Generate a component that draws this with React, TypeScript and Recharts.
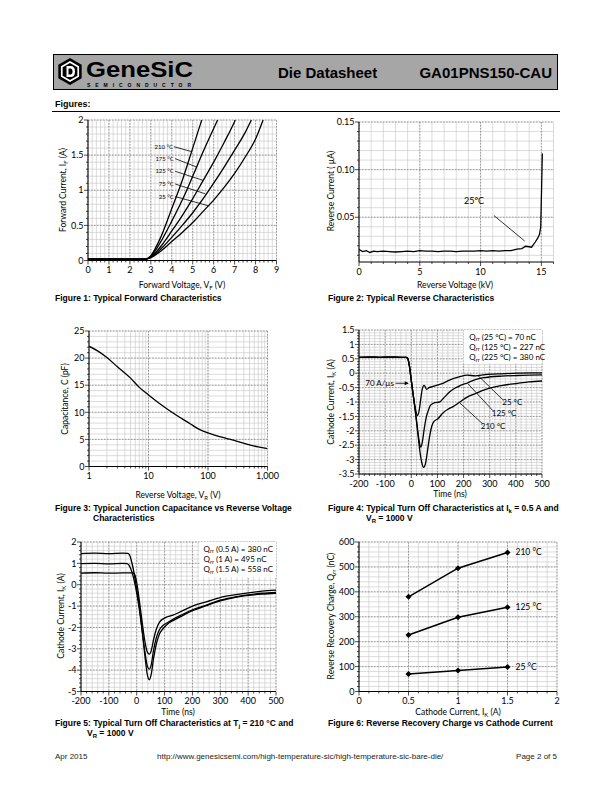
import React from 'react';
import {
  LineChart,
  Line,
  XAxis,
  YAxis,
  CartesianGrid,
  ReferenceLine,
  ReferenceDot,
  ReferenceArea
} from 'recharts';

const CAL = "Lato, 'Open Sans', 'DejaVu Sans', sans-serif";
const ARIAL = "'Liberation Sans', Arial, sans-serif";

// Figure 1: forward characteristics [V_F (V), I_F (A)]
const fwd25 = [[0, 0.02], [2.75, 0.02], [3, 0.04], [3.5, 0.14], [4, 0.27], [4.5, 0.4], [5, 0.54], [5.5, 0.7], [6, 0.86], [6.5, 1.04], [7, 1.24], [7.5, 1.47], [8, 1.73], [8.36, 2]];
const fwd75 = [[0, 0.02], [2.75, 0.02], [3, 0.045], [3.5, 0.17], [4, 0.33], [4.5, 0.5], [5, 0.68], [5.5, 0.88], [6, 1.1], [6.5, 1.33], [7, 1.57], [7.5, 1.82], [7.8, 2]];
const fwd125 = [[0, 0.02], [2.75, 0.02], [3, 0.05], [3.5, 0.21], [4, 0.42], [4.5, 0.64], [5, 0.88], [5.5, 1.14], [6, 1.4], [6.5, 1.68], [7, 1.98], [7.03, 2]];
const fwd175 = [[0, 0.02], [2.75, 0.02], [3, 0.06], [3.5, 0.28], [4, 0.56], [4.5, 0.86], [5, 1.2], [5.5, 1.55], [6, 1.88], [6.19, 2]];
const fwd210 = [[0, 0.02], [2.75, 0.02], [3, 0.07], [3.5, 0.35], [4, 0.74], [4.5, 1.14], [5, 1.6], [5.43, 2]];

// Figure 2: reverse characteristics [V_R (kV), I_R (uA)]
const rev25 = [[0, 0.016], [0.3, 0.014], [0.6, 0.015], [0.9, 0.013], [1.2, 0.0145], [1.5, 0.014], [2, 0.0145], [2.5, 0.014], [3, 0.0135], [3.5, 0.014], [4, 0.0145], [4.5, 0.014], [5, 0.015], [5.5, 0.0145], [6, 0.0145], [6.5, 0.014], [7, 0.0145], [7.5, 0.0145], [8, 0.014], [8.5, 0.0145], [9, 0.0145], [9.5, 0.0145], [10, 0.015], [10.5, 0.0145], [11, 0.015], [11.5, 0.0145], [12, 0.015], [12.5, 0.015], [13, 0.0165], [13.4, 0.017], [13.7, 0.0195], [14, 0.019], [14.2, 0.0185], [14.5, 0.024], [14.7, 0.028], [14.85, 0.032], [14.95, 0.04], [15.02, 0.08], [15.08, 0.117]];

// Figure 3: junction capacitance
const capV = [1, 1.5, 2, 3, 5, 7, 10, 20, 30, 50, 70, 100, 200, 300, 500, 700, 1000];
const capC = [22.2, 21.1, 20.1, 18.4, 16.3, 14.6, 13.2, 10.7, 9.4, 7.9, 6.9, 6.2, 5.2, 4.7, 4.0, 3.6, 3.3];

// Figure 4: turn off at I_K = 0.5 A [t (ns), I_K (A)]
const off25 = [[-200, 0.55], [-160, 0.56], [-120, 0.55], [-80, 0.56], [-40, 0.55], [-20, 0.55], [-14, 0.52], [-8, 0.3], [0, -0.25], [8, -0.8], [16, -1.25], [24, -1.47], [30, -1.3], [36, -0.9], [42, -0.55], [49, -0.42], [59, -0.56], [68, -0.5], [80, -0.47], [96, -0.42], [121, -0.35], [146, -0.24], [183, -0.13], [214, -0.07], [245, -0.09], [282, -0.05], [345, -0.02], [407, 0], [450, 0.01], [500, 0.01]];
const off125 = [[-200, 0.55], [-160, 0.56], [-120, 0.55], [-80, 0.56], [-40, 0.55], [-20, 0.55], [-14, 0.52], [-8, 0.3], [0, -0.25], [8, -0.8], [16, -1.35], [24, -1.95], [30, -2.35], [36, -2.57], [42, -2.4], [50, -1.9], [58, -1.5], [65, -1.3], [73, -1.12], [90, -1.02], [108, -1.0], [127, -0.83], [146, -0.65], [171, -0.5], [189, -0.42], [214, -0.34], [245, -0.22], [282, -0.15], [345, -0.1], [407, -0.08], [450, -0.07], [500, -0.06]];
const off210 = [[-200, 0.55], [-160, 0.56], [-120, 0.55], [-80, 0.56], [-40, 0.55], [-20, 0.55], [-14, 0.52], [-8, 0.3], [0, -0.25], [8, -0.8], [16, -1.35], [24, -2.0], [32, -2.65], [40, -3.1], [47, -3.27], [54, -3.15], [62, -2.7], [70, -2.2], [78, -1.85], [86, -1.68], [102, -1.58], [121, -1.38], [140, -1.25], [158, -1.17], [183, -1.02], [214, -0.83], [245, -0.71], [282, -0.57], [345, -0.43], [407, -0.35], [450, -0.3], [500, -0.27]];

// Figure 5: turn off at Tj = 210 C
const off05A = [[-200, 0.54], [-150, 0.56], [-100, 0.54], [-50, 0.55], [-15, 0.55], [-8, 0.5], [0, 0.1], [10, -0.8], [20, -1.8], [30, -2.7], [38, -3.15], [45, -3.25], [52, -3.1], [60, -2.6], [70, -2.1], [82, -1.75], [95, -1.6], [110, -1.5], [130, -1.42], [160, -1.25], [200, -1.0], [250, -0.8], [300, -0.6], [350, -0.48], [400, -0.38], [450, -0.3], [500, -0.25]];
const off1A = [[-200, 0.99], [-150, 1.0], [-100, 0.98], [-50, 1.0], [-35, 0.99], [-28, 0.92], [-15, 0.5], [0, -0.4], [10, -1.2], [20, -2.2], [30, -3.2], [38, -3.8], [45, -3.95], [52, -3.75], [60, -3.1], [70, -2.5], [82, -2.1], [95, -1.9], [110, -1.78], [130, -1.62], [160, -1.42], [200, -1.18], [250, -0.95], [300, -0.72], [350, -0.58], [400, -0.48], [450, -0.4], [500, -0.36]];
const off15A = [[-200, 1.46], [-150, 1.48], [-100, 1.46], [-50, 1.48], [-32, 1.47], [-26, 1.4], [-15, 0.9], [0, -0.2], [10, -1.1], [20, -2.2], [30, -3.4], [38, -4.2], [45, -4.45], [52, -4.2], [60, -3.5], [70, -2.8], [82, -2.3], [95, -2.05], [110, -1.85], [130, -1.68], [160, -1.48], [200, -1.22], [250, -0.98], [300, -0.76], [350, -0.6], [400, -0.5], [450, -0.44], [500, -0.4]];

// Figure 6: reverse recovery charge
const iK = [0.5, 1, 1.5];
const qrr25 = [70, 84, 98];
const qrr125 = [227, 298, 338];
const qrr210 = [380, 495, 558];

// axis ticks
const f1X = [0, 1, 2, 3, 4, 5, 6, 7, 8, 9];
const f1Y = [0, 0.5, 1, 1.5, 2];
const f2X = [0, 5, 10, 15];
const f2Y = [0.05, 0.1, 0.15];
const f3X = [1, 10, 100, 1000];
const f3Y = [0, 5, 10, 15, 20, 25];
const f4X = [-200, -100, 0, 100, 200, 300, 400, 500];
const f4Y = [-3.5, -3, -2.5, -2, -1.5, -1, -0.5, 0, 0.5, 1, 1.5];
const f5Y = [-5, -4, -3, -2, -1, 0, 1, 2];
const f6X = [0, 0.5, 1, 1.5, 2];
const f6Y = [0, 100, 200, 300, 400, 500, 600];

const steps = (a: number, b: number, s: number) => {
  const n = Math.round((b - a) / s);
  const out: number[] = [];
  for (let i = 0; i <= n; i++) out.push(Math.round((a + i * s) * 1e6) / 1e6);
  return out;
};
const logSteps = () => {
  const out: number[] = [];
  [1, 10, 100].forEach((d) => { for (let k = 1; k < 10; k++) out.push(k * d); });
  out.push(1000);
  return out;
};
const pts = (a: number[][]) => a.map(([x, y]) => ({ x, y }));
const zipPts = (xs: number[], ys: number[]) => xs.map((x, i) => ({ x, y: ys[i] }));
const isMajor = (v: number, majors: number[]) => majors.some((m) => Math.abs(m - v) < 1e-9);
const plain = (v: number) => String(v);

const XTick = (p: any) => {
  const { x, y, payload, majors, fmt } = p;
  const major = isMajor(payload.value, majors);
  return (
    <g>
      <line x1={x} x2={x} y1={y} y2={y + (major ? 4 : 2)} stroke="#000" strokeWidth={0.7} />
      {major ? (
        <text x={x} y={y + 12.5} textAnchor="middle" fontSize={9} fontFamily={CAL} fill="#000">
          {fmt(payload.value)}
        </text>
      ) : null}
    </g>
  );
};

const YTick = (p: any) => {
  const { x, y, payload, majors, fmt } = p;
  const major = isMajor(payload.value, majors);
  return (
    <g>
      <line x1={x} x2={x - (major ? 4 : 2)} y1={y} y2={y} stroke="#000" strokeWidth={0.7} />
      {major ? (
        <text x={x - 4.5} y={y + 3.2} textAnchor="end" fontSize={9} fontFamily={CAL} fill="#000">
          {fmt(payload.value)}
        </text>
      ) : null}
    </g>
  );
};

const PL = 45, PR = 25, PT = 10, PB = 20;

function Plot(props: any) {
  const { box, xDomain, yDomain, xScale = 'linear', xTicks, xMajor, xFmt = plain, yTicks, yMajor, yFmt = plain, children } = props;
  const w = box[2] - box[0] + PL + PR;
  const h = box[3] - box[1] + PT + PB;
  return (
    <div style={{ position: 'absolute', left: box[0] - PL, top: box[1] - PT, width: w, height: h }}>
      <LineChart width={w} height={h} margin={{ top: PT, right: PR, bottom: 0, left: 0 }}>
        <CartesianGrid stroke="#c4c4c4" strokeWidth={0.6} verticalValues={xTicks} horizontalValues={yTicks} />
        <CartesianGrid stroke="#808080" strokeWidth={0.7} strokeDasharray="1.5 1.5" verticalValues={xMajor} horizontalValues={yMajor} />
        <XAxis
          type="number"
          dataKey="x"
          scale={xScale}
          domain={xDomain}
          ticks={xTicks}
          interval={0}
          allowDataOverflow
          height={PB}
          tickSize={0}
          tickMargin={0}
          tickLine={false}
          stroke="#000"
          tick={(p: any) => <XTick {...p} majors={xMajor} fmt={xFmt} />}
        />
        <YAxis
          type="number"
          domain={yDomain}
          ticks={yTicks}
          interval={0}
          allowDataOverflow
          width={PL}
          tickSize={0}
          tickMargin={0}
          tickLine={false}
          stroke="#000"
          tick={(p: any) => <YTick {...p} majors={yMajor} fmt={yFmt} />}
        />
        {children}
      </LineChart>
    </div>
  );
}

const curve = (key: string, data: any[], type: any = 'monotone') => (
  <Line key={key} data={data} dataKey="y" type={type} stroke="#000" strokeWidth={1.3} dot={false} isAnimationActive={false} />
);

const tag = (key: string, x: number, y: number, text: string, opts: any = {}) => {
  const { anchor = 'start', dx = 0, dy = 0, size = 7 } = opts;
  return (
    <ReferenceDot
      key={key}
      x={x}
      y={y}
      r={0}
      ifOverflow="visible"
      shape={(p: any) => (
        <text x={p.cx + dx} y={p.cy + dy + size * 0.35} textAnchor={anchor} fontSize={size} fontFamily={CAL} fill="#000">
          {text}
        </text>
      )}
    />
  );
};

const leader = (key: string, a: number[], b: number[]) => (
  <ReferenceLine key={key} segment={[{ x: a[0], y: a[1] }, { x: b[0], y: b[1] }]} stroke="#000" strokeWidth={0.8} ifOverflow="visible" />
);

const qrrTag = (key: string, x: number, y: number, rest: string) => (
  <ReferenceDot
    key={key}
    x={x}
    y={y}
    r={0}
    ifOverflow="visible"
    shape={(p: any) => (
      <text x={p.cx} y={p.cy + 3} fontSize={8} fontFamily={CAL} fill="#000">
        Q<tspan fontSize={5.5} dy={1.5}>rr</tspan>
        <tspan dy={-1.5}>{rest}</tspan>
      </text>
    )}
  />
);

const Diamond = (p: any) => {
  const { cx, cy } = p;
  if (cx == null || cy == null) return null;
  return <path d={`M${cx},${cy - 3}L${cx + 3},${cy}L${cx},${cy + 3}L${cx - 3},${cy}Z`} fill="#000" />;
};

function Txt({ x, y, size = 9, weight = 400, align = 'left', rot = false, font = CAL, color = '#000', children }: any) {
  let transform = 'translateY(-50%)';
  if (align === 'center') transform = 'translate(-50%,-50%)';
  if (align === 'right') transform = 'translate(-100%,-50%)';
  if (rot) transform = 'translate(-50%,-50%) rotate(-90deg)';
  return (
    <div style={{ position: 'absolute', left: x, top: y, transform, fontSize: size, fontWeight: weight, fontFamily: font, lineHeight: 1, whiteSpace: 'nowrap', color }}>
      {children}
    </div>
  );
}

const Sub = ({ children }: any) => (
  <sub style={{ fontSize: '0.7em', verticalAlign: '-0.3em', lineHeight: 0 }}>{children}</sub>
);

const Cap = ({ x, y, children }: any) => (
  <Txt x={x} y={y} size={8.5} weight={700} font={ARIAL}>{children}</Txt>
);

function Logo() {
  const hex = (cx: number, cy: number, r: number) =>
    [0, 1, 2, 3, 4, 5].map((i) => {
      const a = (Math.PI / 3) * i - Math.PI / 2;
      return `${cx + r * Math.cos(a)},${cy + r * Math.sin(a)}`;
    }).join(' ');
  return (
    <svg width={150} height={36} style={{ position: 'absolute', left: 55, top: 54 }}>
      <polygon points={hex(15, 17.5, 13.5)} fill="#000" />
      <polygon points={hex(15, 17.5, 10.5)} fill="#fff" />
      <polygon points={hex(15, 17.5, 8.5)} fill="#000" />
      <path d="M11.5,12 L15.5,12 Q20,12 20,17.5 Q20,23 15.5,23 L11.5,23 Z" fill="#fff" />
      <path d="M13.5,14.5 L15.3,14.5 Q17.5,14.5 17.5,17.5 Q17.5,20.5 15.3,20.5 L13.5,20.5 Z" fill="#000" />
      <text x={31} y={22.5} fontSize={22} fontWeight={900} fontFamily={ARIAL} fill="#000" textLength={107} lengthAdjust="spacingAndGlyphs">GeneSiC</text>
      <text x={32} y={33} fontSize={5} fontWeight={700} fontFamily={ARIAL} fill="#000" textLength={104} lengthAdjust="spacing">SEMICONDUCTOR</text>
    </svg>
  );
}

export default function App() {
  const f4Minor = steps(-200, 500, 20);
  return (
    <div style={{ position: 'absolute', left: 0, top: 0, width: 612, height: 792, background: '#fff', overflow: 'hidden' }}>
      {/* header */}
      <div style={{ position: 'absolute', left: 53, top: 54, width: 505, height: 36, background: '#a6a6a6', border: '1.5px solid #000', boxSizing: 'border-box' }} />
      <Logo />
      <Txt x={278} y={72} size={15} weight={700} font={ARIAL}>Die Datasheet</Txt>
      <Txt x={552} y={72} size={15} weight={700} font={ARIAL} align="right">GA01PNS150-CAU</Txt>
      <Txt x={55} y={104} size={9} weight={700} font={ARIAL}>Figures:</Txt>
      <div style={{ position: 'absolute', left: 52, top: 110.5, width: 508, height: 1, background: '#000' }} />

      {/* Figure 1 */}
      <Plot box={[88, 119.5, 276.5, 260]} xDomain={[0, 9]} yDomain={[0, 2]} xTicks={steps(0, 9, 0.2)} xMajor={f1X} yTicks={steps(0, 2, 0.1)} yMajor={f1Y}>
        {curve('c25', pts(fwd25))}
        {curve('c75', pts(fwd75))}
        {curve('c125', pts(fwd125))}
        {curve('c175', pts(fwd175))}
        {curve('c210', pts(fwd210))}
        {leader('l210', [4.1, 1.62], [4.95, 1.55])}
        {leader('l175', [4.16, 1.45], [5.19, 1.33])}
        {leader('l125', [4.16, 1.27], [5.5, 1.14])}
        {leader('l75', [4.16, 1.09], [5.59, 0.95])}
        {leader('l25', [4.16, 0.91], [5.74, 0.78])}
        {tag('t210', 4.06, 1.62, '210 °C', { anchor: 'end', size: 6 })}
        {tag('t175', 4.1, 1.45, '175 °C', { anchor: 'end', size: 6 })}
        {tag('t125', 4.1, 1.27, '125 °C', { anchor: 'end', size: 6 })}
        {tag('t75', 4.1, 1.09, '75 °C', { anchor: 'end', size: 6 })}
        {tag('t25', 4.1, 0.91, '25 °C', { anchor: 'end', size: 6 })}
      </Plot>
      <Txt x={63} y={190} size={8.5} rot>Forward Current, I<Sub>F</Sub> (A)</Txt>
      <Txt x={182} y={285} size={8.5} align="center">Forward Voltage, V<Sub>F</Sub> (V)</Txt>
      <Cap x={55} y={298}>Figure 1: Typical Forward Characteristics</Cap>

      {/* Figure 2 */}
      <Plot box={[358.5, 121.5, 553, 261.5]} xDomain={[0, 16]} yDomain={[0.003, 0.15]} xTicks={steps(0, 16, 1)} xMajor={f2X} yTicks={steps(0.01, 0.15, 0.01)} yMajor={f2Y} yFmt={(v: number) => v.toFixed(2)}>
        {curve('r25', pts(rev25), 'linear')}
        {leader('lr', [11.1, 0.0518], [13.63, 0.025])}
        {tag('tr', 9.46, 0.0667, '25ºC', { anchor: 'middle', size: 9 })}
      </Plot>
      <Txt x={331} y={191} size={8.5} rot>Reverse Current ( µA)</Txt>
      <Txt x={455} y={285} size={8.5} align="center">Reverse Voltage (kV)</Txt>
      <Cap x={328} y={298}>Figure 2: Typical Reverse Characteristics</Cap>

      {/* Figure 3 */}
      <Plot box={[88.5, 331, 267, 466.5]} xScale="log" xDomain={[1, 1000]} yDomain={[0, 25]} xTicks={logSteps()} xMajor={f3X} xFmt={(v: number) => v.toLocaleString('en-US')} yTicks={steps(0, 25, 1)} yMajor={f3Y}>
        {curve('cap', zipPts(capV, capC))}
      </Plot>
      <Txt x={65} y={399} size={8.5} rot>Capacitance, C (pF)</Txt>
      <Txt x={178} y={494.5} size={8.5} align="center">Reverse Voltage, V<Sub>R</Sub> (V)</Txt>
      <Cap x={55} y={507.5}>Figure 3: Typical Junction Capacitance vs Reverse Voltage</Cap>
      <Cap x={93} y={518}>Characteristics</Cap>

      {/* Figure 4 */}
      <Plot box={[359, 330, 542, 474]} xDomain={[-200, 500]} yDomain={[-3.5, 1.5]} xTicks={f4Minor} xMajor={f4X} yTicks={steps(-3.5, 1.5, 0.1)} yMajor={f4Y}>
        <ReferenceArea x1={200} x2={500} y1={0.33} y2={1.5} fill="#fff" fillOpacity={1} stroke="none" ifOverflow="visible" />
        {curve('o210', pts(off210))}
        {curve('o125', pts(off125))}
        {curve('o25', pts(off25))}
        {qrrTag('q1', 222, 1.27, ' (25 °C) = 70 nC')}
        {qrrTag('q2', 222, 0.91, ' (125 °C) = 227 nC')}
        {qrrTag('q3', 222, 0.56, ' (225 °C) = 380 nC')}
        {leader('a70', [-60, -0.35], [-12, -0.35])}
        <ReferenceDot
          x={-10}
          y={-0.35}
          r={0}
          ifOverflow="visible"
          shape={(p: any) => <path d={`M${p.cx},${p.cy} L${p.cx - 4},${p.cy - 2} L${p.cx - 4},${p.cy + 2} Z`} fill="#000" />}
        />
        {tag('t70', -66, -0.35, '70 A/µs', { anchor: 'end', size: 8 })}
        {leader('k25', [350, -0.92], [255, -0.08])}
        {leader('k125', [312, -1.3], [215, -0.35])}
        {leader('k210', [272, -1.75], [184, -1.02])}
        {tag('u25', 348, -1.0, '25 °C', { size: 8 })}
        {tag('u125', 308, -1.38, '125 °C', { size: 8 })}
        {tag('u210', 266, -1.84, '210 °C', { size: 8 })}
      </Plot>
      <Txt x={331} y={402} size={8.5} rot>Cathode Current, I<Sub>K</Sub> (A)</Txt>
      <Txt x={450} y={494} size={8.5} align="center">Time (ns)</Txt>
      <Cap x={328} y={507.5}>Figure 4: Typical Turn Off Characteristics at I<Sub>k</Sub> = 0.5 A and</Cap>
      <Cap x={366} y={518}>V<Sub>R</Sub> = 1000 V</Cap>

      {/* Figure 5 */}
      <Plot box={[81, 541.5, 276, 691]} xDomain={[-200, 500]} yDomain={[-5, 2]} xTicks={f4Minor} xMajor={f4X} yTicks={steps(-5, 2, 0.2)} yMajor={f5Y}>
        <ReferenceArea x1={225} x2={500} y1={0.35} y2={2} fill="#fff" fillOpacity={1} stroke="none" ifOverflow="visible" />
        {curve('p05', pts(off05A))}
        {curve('p1', pts(off1A))}
        {curve('p15', pts(off15A))}
        {qrrTag('r1', 240, 1.68, ' (0.5 A) = 380 nC')}
        {qrrTag('r2', 240, 1.2, ' (1 A) = 495 nC')}
        {qrrTag('r3', 240, 0.72, ' (1.5 A) = 558 nC')}
      </Plot>
      <Txt x={61} y={616} size={8.5} rot>Cathode Current, I<Sub>K</Sub> (A)</Txt>
      <Txt x={178} y={712} size={8.5} align="center">Time (ns)</Txt>
      <Cap x={55} y={722.5}>Figure 5: Typical Turn Off Characteristics at T<Sub>j</Sub> = 210 °C and</Cap>
      <Cap x={87} y={732.5}>V<Sub>R</Sub> = 1000 V</Cap>

      {/* Figure 6 */}
      <Plot box={[359, 541.5, 557, 691]} xDomain={[0, 2]} yDomain={[0, 600]} xTicks={steps(0, 2, 0.1)} xMajor={f6X} yTicks={steps(0, 600, 20)} yMajor={f6Y}>
        <Line data={zipPts(iK, qrr25)} dataKey="y" type="linear" stroke="#000" strokeWidth={1.5} dot={<Diamond />} isAnimationActive={false} />
        <Line data={zipPts(iK, qrr125)} dataKey="y" type="linear" stroke="#000" strokeWidth={1.5} dot={<Diamond />} isAnimationActive={false} />
        <Line data={zipPts(iK, qrr210)} dataKey="y" type="linear" stroke="#000" strokeWidth={1.5} dot={<Diamond />} isAnimationActive={false} />
        {tag('v25', iK[2], qrr25[2], '25 °C', { dx: 8, size: 8.5 })}
        {tag('v125', iK[2], qrr125[2], '125 °C', { dx: 8, size: 8.5 })}
        {tag('v210', iK[2], qrr210[2], '210 °C', { dx: 8, size: 8.5 })}
      </Plot>
      <Txt x={331} y={616} size={8.5} rot>Reverse Recovery Charge, Q<Sub>rr</Sub> (nC)</Txt>
      <Txt x={458} y={712} size={8.5} align="center">Cathode Current, I<Sub>K</Sub> (A)</Txt>
      <Cap x={328} y={722.5}>Figure 6: Reverse Recovery Charge vs Cathode Current</Cap>

      {/* footer */}
      <Txt x={55} y={757} size={8} font={ARIAL} color="#222">Apr 2015</Txt>
      <Txt x={157} y={757} size={8} font={ARIAL} color="#222">http://www.genesicsemi.com/high-temperature-sic/high-temperature-sic-bare-die/</Txt>
      <Txt x={557} y={757} size={8} font={ARIAL} color="#222" align="right">Page 2 of 5</Txt>
    </div>
  );
}
